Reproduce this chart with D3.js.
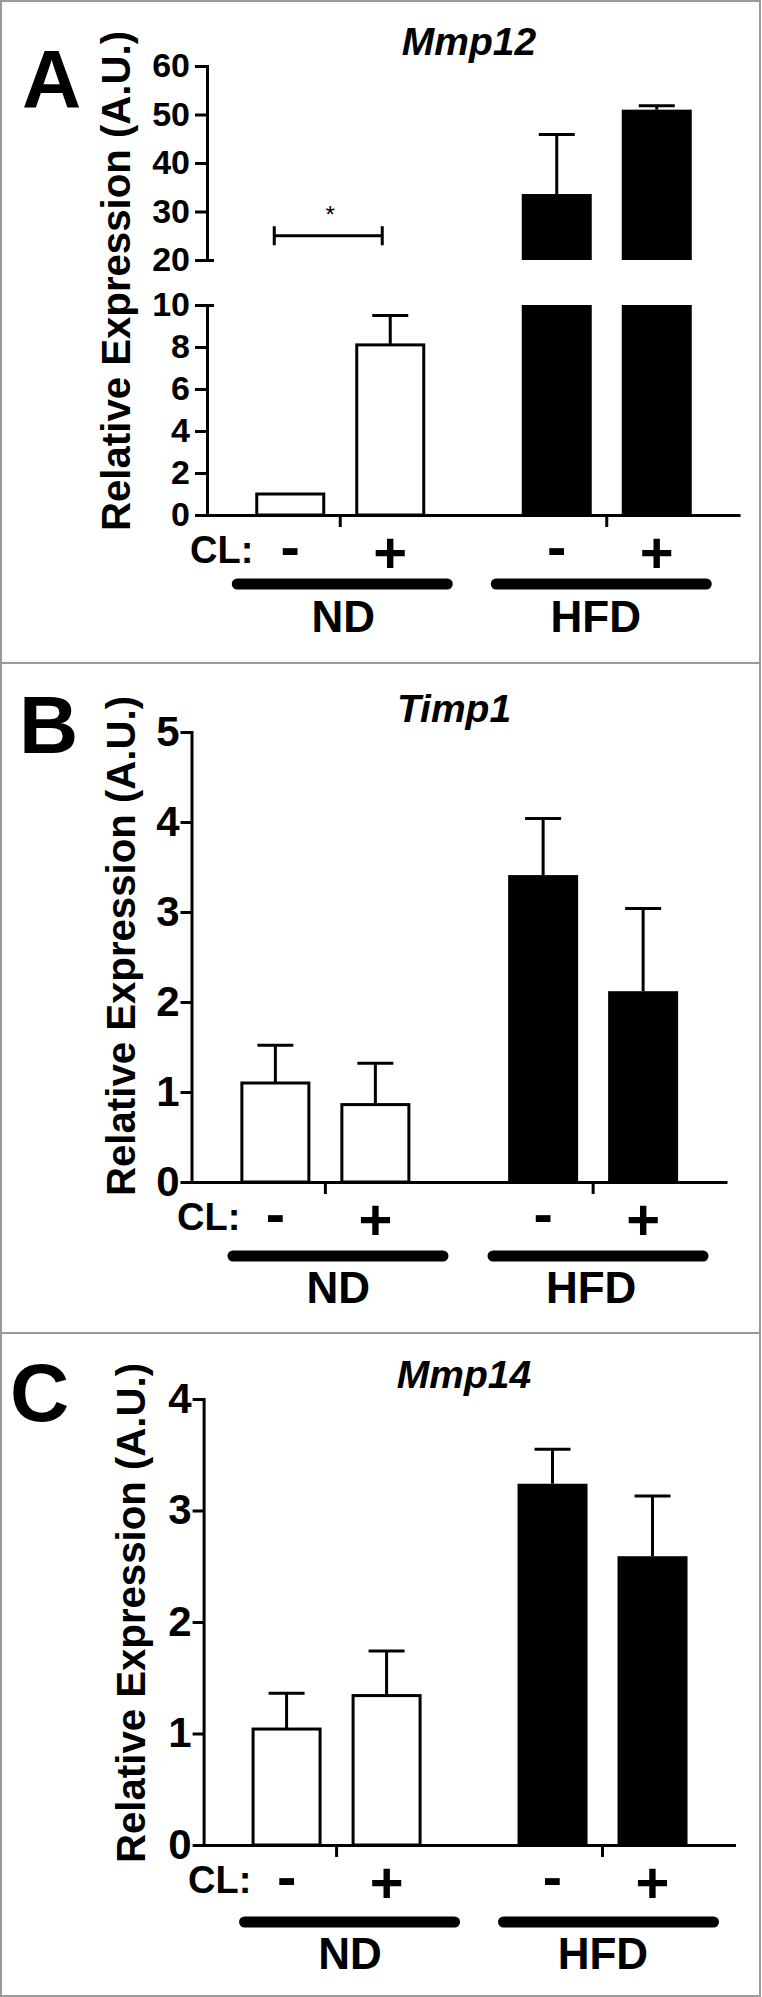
<!DOCTYPE html>
<html><head><meta charset="utf-8">
<script src="https://cdn.jsdelivr.net/npm/d3@7"></script>
<style>
html,body{margin:0;padding:0;background:#fff;}
svg{display:block;}
</style></head><body>
<svg id="chart" width="762" height="1997"></svg>
<script>
// ---------------- data ----------------
const groups = ["ND", "HFD"];
const clLevels = ["-", "+"];
const genes = ["Mmp12", "Timp1", "Mmp14"];
const panelLetters = ["A", "B", "C"];
const yLabel = "Relative Expression (A.U.)";
const clLabel = "CL:";

// order: ND/-, ND/+, HFD/-, HFD/+
const mmp12Mean = [1.0, 8.1, 33.6, 51.0];
const mmp12Err  = [0, 1.4, 12.3, 0.8];
const timp1Mean = [1.10, 0.86, 3.41, 2.12];
const timp1Err  = [0.42, 0.46, 0.63, 0.92];
const mmp14Mean = [1.04, 1.34, 3.24, 2.59];
const mmp14Err  = [0.32, 0.40, 0.31, 0.54];

const mmp12TicksLow  = [0, 2, 4, 6, 8, 10];
const mmp12TicksHigh = [20, 30, 40, 50, 60];
const timp1Ticks = [0, 1, 2, 3, 4, 5];
const mmp14Ticks = [0, 1, 2, 3, 4];

const mmp12Sig = { from: ["ND", "-"], to: ["ND", "+"], level: 25, label: "*" };

// ---------------- layout ----------------
const FONT = '"Liberation Sans", Arial, Helvetica, sans-serif';
const barW = 70;

const panels = [
  { gene: genes[0], letter: panelLetters[0], mean: mmp12Mean, err: mmp12Err,
    segments: [ { domain: [0, 10], range: [515, 305], ticks: mmp12TicksLow },
                { domain: [20, 60], range: [260, 66], ticks: mmp12TicksHigh } ],
    x0: 207, x1: 740, tickSize: 12, tickPad: 5, tickFont: 34,
    letterPos: [22, 107], titlePos: [469, 55], ylabPos: [130, 281],
    clX: 190, lineY: 69, lineDx: [2, -5.5], grpY: 117, grpDx: [3, -11], sig: mmp12Sig },
  { gene: genes[1], letter: panelLetters[1], mean: timp1Mean, err: timp1Err,
    segments: [ { domain: [0, 5], range: [1182, 732], ticks: timp1Ticks } ],
    x0: 191.5, x1: 727, tickSize: 11, tickPad: 1, tickFont: 42,
    letterPos: [19, 753], titlePos: [454, 722], ylabPos: [135, 946],
    clX: 177, lineY: 74, lineDx: [12.6, 4.9], grpY: 121, grpDx: [13, -2], sig: null },
  { gene: genes[2], letter: panelLetters[2], mean: mmp14Mean, err: mmp14Err,
    segments: [ { domain: [0, 4], range: [1845, 1399], ticks: mmp14Ticks } ],
    x0: 203.6, x1: 735.5, tickSize: 11, tickPad: 1, tickFont: 42,
    letterPos: [10, 1421], titlePos: [464, 1388], ylabPos: [145, 1613],
    clX: 188, lineY: 77, lineDx: [13, 6], grpY: 124, grpDx: [13.4, 0.4], sig: null }
];

const svg = d3.select("#chart");
svg.append("rect").attr("width", 762).attr("height", 1997).attr("fill", "#fff");

panels.forEach(p => {
  const g = svg.append("g");
  const xGroup = d3.scaleBand().domain(groups).range([p.x0, p.x1]).padding(0);
  const xCL = d3.scaleBand().domain(clLevels).range([-85, 85]).paddingInner(0.3).paddingOuter(0);
  const gc = grp => xGroup(grp) + xGroup.bandwidth() / 2;
  const cx = (grp, cl) => gc(grp) + xCL(cl) + xCL.bandwidth() / 2;
  const segs = p.segments.map(s => Object.assign({}, s, { y: d3.scaleLinear().domain(s.domain).range(s.range) }));
  const y0 = segs[0].y(0);

  // y axis segments
  segs.forEach((s, si) => {
    const ax = d3.axisLeft(s.y).tickValues(s.ticks).tickSize(p.tickSize)
      .tickSizeOuter(0).tickPadding(p.tickPad).tickFormat(d3.format("d"));
    const a = g.append("g").attr("transform", `translate(${p.x0},0)`).call(ax)
      .attr("font-family", FONT).attr("font-size", p.tickFont).attr("font-weight", "bold");
    a.select(".domain").attr("stroke-width", 3).attr("stroke-linecap", "square");
    a.selectAll(".tick line").attr("stroke-width", 3);
    a.selectAll(".tick text").attr("fill", "#000");
  });
  // break marks for broken axis
  if (segs.length > 1) {
    [segs[0].y(segs[0].domain[1]), segs[1].y(segs[1].domain[0])].forEach(yy => {
      g.append("line").attr("x1", p.x0).attr("x2", p.x0 + 7).attr("y1", yy + 0.5).attr("y2", yy + 0.5)
        .attr("stroke", "#000").attr("stroke-width", 3);
    });
  }

  // bars
  const bars = [];
  groups.forEach((grp, gi) => clLevels.forEach((cl, ci) => {
    bars.push({ grp, cl, gi, v: p.mean[gi * 2 + ci], e: p.err[gi * 2 + ci] });
  }));
  bars.forEach(b => {
    const x = cx(b.grp, b.cl);
    segs.forEach(s => {
      if (b.v <= s.domain[0]) return;
      const top = s.y(Math.min(b.v, s.domain[1]));
      const bot = s.y(s.domain[0]);
      if (b.gi === 0) {
        g.append("rect").attr("x", x - barW / 2 + 1.5).attr("y", top).attr("width", barW - 3)
          .attr("height", bot - top).attr("fill", "#fff").attr("stroke", "#000").attr("stroke-width", 3);
      } else {
        g.append("rect").attr("x", x - barW / 2).attr("y", top).attr("width", barW)
          .attr("height", bot - top).attr("fill", "#000");
      }
    });
    if (b.e > 0) {
      const s = segs.find(s => b.v >= s.domain[0] && b.v <= s.domain[1]);
      const yt = s.y(b.v + b.e), yb = s.y(b.v);
      g.append("line").attr("x1", x).attr("x2", x).attr("y1", yt).attr("y2", yb)
        .attr("stroke", "#000").attr("stroke-width", 3);
      g.append("line").attr("x1", x - 18).attr("x2", x + 18).attr("y1", yt).attr("y2", yt)
        .attr("stroke", "#000").attr("stroke-width", 3);
    }
  });

  // x axis
  const xa = g.append("g").attr("transform", `translate(0,${y0})`)
    .call(d3.axisBottom(xGroup).tickSize(12).tickSizeOuter(0).tickFormat(""));
  xa.select(".domain").attr("stroke-width", 3);
  xa.selectAll(".tick line").attr("stroke-width", 3);

  // significance bracket
  if (p.sig) {
    const s = segs.find(s => p.sig.level >= s.domain[0] && p.sig.level <= s.domain[1]);
    const xa1 = cx(...p.sig.from) - 16, xb1 = cx(...p.sig.to) - 8, yy = s.y(p.sig.level);
    g.append("line").attr("x1", xa1).attr("x2", xb1).attr("y1", yy).attr("y2", yy).attr("stroke", "#000").attr("stroke-width", 3);
    [xa1, xb1].forEach(xx => g.append("line").attr("x1", xx).attr("x2", xx).attr("y1", yy - 9.5).attr("y2", yy + 9.5)
      .attr("stroke", "#000").attr("stroke-width", 3));
    g.append("text").attr("x", (xa1 + xb1) / 2 + 2).attr("y", yy - 13).attr("text-anchor", "middle")
      .attr("font-family", FONT).attr("font-size", 24).text(p.sig.label);
  }

  // CL annotation
  g.append("text").attr("x", p.clX).attr("y", y0 + 48).attr("font-family", FONT)
    .attr("font-size", 38).attr("font-weight", "bold").text(clLabel);
  const symShift = { "-": 0.255, "+": 0.36 };
  bars.forEach(b => {
    g.append("text").attr("x", cx(b.grp, b.cl)).attr("y", y0 + 37.5 + symShift[b.cl] * 58)
      .attr("text-anchor", "middle").attr("font-family", FONT).attr("font-size", 58)
      .attr("font-weight", "bold").text(b.cl);
  });
  groups.forEach((grp, gi) => {
    const c = gc(grp) + p.lineDx[gi];
    g.append("line").attr("x1", c - 105).attr("x2", c + 105).attr("y1", y0 + p.lineY).attr("y2", y0 + p.lineY)
      .attr("stroke", "#000").attr("stroke-width", 11).attr("stroke-linecap", "round");
    g.append("text").attr("x", gc(grp) + p.grpDx[gi]).attr("y", y0 + p.grpY).attr("text-anchor", "middle")
      .attr("font-family", FONT).attr("font-size", 44).attr("font-weight", "bold").text(grp);
  });

  // title, letter, y label
  g.append("text").attr("x", p.titlePos[0]).attr("y", p.titlePos[1]).attr("text-anchor", "middle")
    .attr("font-family", FONT).attr("font-size", 39).attr("font-weight", "bold").attr("font-style", "italic").text(p.gene);
  g.append("text").attr("x", p.letterPos[0]).attr("y", p.letterPos[1])
    .attr("font-family", FONT).attr("font-size", 82).attr("font-weight", "bold").text(p.letter);
  g.append("text").attr("transform", `translate(${p.ylabPos[0]},${p.ylabPos[1]}) rotate(-90)`)
    .attr("text-anchor", "middle").attr("font-family", FONT).attr("font-size", 40).attr("font-weight", "bold")
    .attr("textLength", 500).attr("lengthAdjust", "spacingAndGlyphs").text(yLabel);
});

// panel frames
svg.append("rect").attr("x", 1).attr("y", 1).attr("width", 759).attr("height", 1995)
  .attr("fill", "none").attr("stroke", "#9a9a9a").attr("stroke-width", 2);
[663, 1333].forEach(yy => svg.append("line").attr("x1", 1).attr("x2", 760).attr("y1", yy).attr("y2", yy)
  .attr("stroke", "#9a9a9a").attr("stroke-width", 2));
</script>
</body></html>
